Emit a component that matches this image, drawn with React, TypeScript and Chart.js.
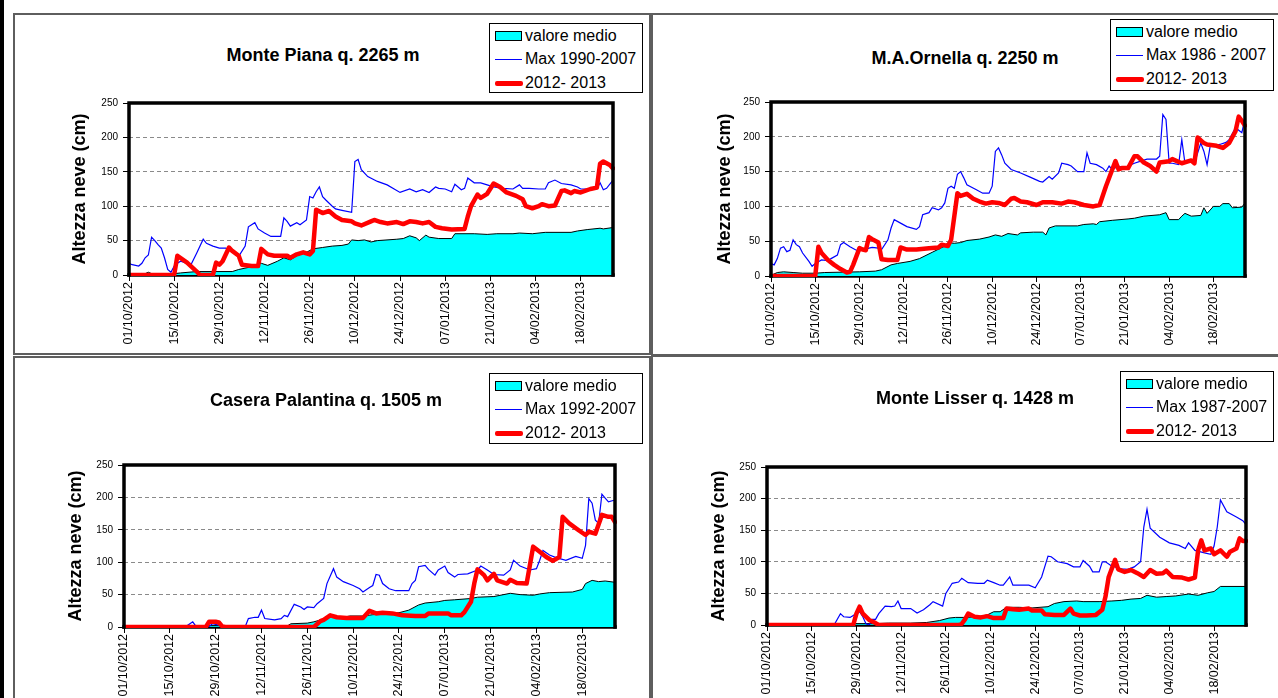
import React, { useEffect, useRef } from 'react';
import { Chart, registerables } from 'chart.js';

Chart.register(...registerables);

const FONT = '"Liberation Sans", Arial, Helvetica, sans-serif';

// ---------- axis data ----------
const tickDays = [0, 14, 28, 42, 56, 70, 84, 98, 112, 126, 140];
const tickLabels = [
  '01/10/2012', '15/10/2012', '29/10/2012', '12/11/2012', '26/11/2012', '10/12/2012',
  '24/12/2012', '07/01/2013', '21/01/2013', '04/02/2013', '18/02/2013',
];
const firstDay = 0;
const lastDay = 150;
const yMin = 0;
const yMax = 250;
const yStep = 50;

const medioLabel = 'valore medio';
const annoLabel = '2012- 2013';
const yTitle = 'Altezza neve (cm)';

type Pt = [number, number];

// ---------- Monte Piana ----------
const pianaTitle = 'Monte Piana q. 2265 m';
const pianaMaxLabel = 'Max 1990-2007';
const pianaMedio: Pt[] = [[0,2],[5,2],[6,4],[7,2],[14,2],[16,3],[21,5],[32,5],[34,8],[38,12],[41,17],[43,14],[46,20],[48,25],[50,22],[52,28],[55,33],[57,38],[60,40],[63,42],[66,43],[68,45],[69,51],[71,50],[73,51],[75,48],[77,50],[83,52],[85,53],[87,57],[89,54],[90,50],[92,58],[93,55],[96,53],[100,53],[101,60],[107,60],[111,59],[114,60],[119,60],[121,61],[125,60],[129,62],[137,62],[139,64],[142,66],[146,68],[147,67],[150,69]];
const pianaMax: Pt[] = [[0,17],[1,15],[3,13],[4,17],[5,25],[6,29],[7,55],[8,50],[9,44],[10,39],[11,25],[12,8],[13,4],[14,13],[15,17],[16,20],[18,17],[19,13],[21,32],[23,52],[24,46],[26,42],[28,39],[30,39],[32,34],[34,27],[36,42],[37,70],[39,76],[40,67],[42,61],[44,56],[47,56],[48,83],[49,78],[50,71],[52,76],[53,73],[55,80],[56,114],[57,112],[58,121],[59,128],[60,114],[61,109],[63,100],[64,96],[66,94],[69,91],[70,165],[71,168],[72,153],[74,143],[77,136],[80,131],[84,120],[87,125],[89,121],[91,124],[93,120],[95,128],[96,126],[98,125],[100,121],[101,132],[103,124],[104,126],[105,141],[107,134],[109,134],[111,131],[113,128],[116,126],[119,125],[121,131],[122,126],[124,126],[127,125],[129,125],[130,134],[132,138],[134,133],[137,131],[139,128],[140,125],[145,125],[146,134],[147,124],[148,126],[150,138]];
const pianaAnno: Pt[] = [[0,0],[14,0],[15,28],[18,18],[21,5],[22,0],[26,0],[27,18],[28,15],[29,20],[31,40],[32,35],[34,28],[35,15],[38,13],[40,13],[41,38],[43,30],[45,28],[49,28],[50,25],[52,30],[54,33],[56,30],[57,35],[58,95],[60,90],[62,93],[64,85],[66,80],[69,78],[70,75],[72,72],[75,78],[76,80],[78,77],[80,75],[83,77],[85,74],[87,78],[89,77],[91,75],[93,77],[95,70],[97,68],[100,66],[104,67],[105,85],[106,100],[108,117],[109,112],[111,118],[113,133],[115,128],[117,120],[120,115],[122,110],[123,100],[125,97],[127,100],[128,103],[130,100],[132,101],[134,122],[135,123],[137,119],[138,122],[140,120],[143,125],[145,127],[146,162],[147,165],[149,160],[150,155]];

// ---------- M.A. Ornella ----------
const ornellaTitle = 'M.A.Ornella q. 2250 m';
const ornellaMaxLabel = 'Max 1986 - 2007';
const ornellaMedio: Pt[] = [[0,1],[2,5],[4,6],[7,5],[10,4],[14,4],[17,5],[28,6],[33,7],[35,9],[38,16],[40,18],[44,21],[47,25],[51,34],[55,43],[56,48],[58,47],[60,48],[62,51],[66,53],[69,56],[71,59],[73,57],[75,61],[78,59],[79,62],[83,63],[86,63],[87,59],[88,69],[90,72],[97,72],[99,74],[102,75],[103,74],[104,78],[108,80],[113,82],[115,83],[118,86],[123,88],[125,91],[126,81],[129,81],[130,86],[131,90],[133,86],[136,87],[137,98],[138,90],[140,100],[142,100],[143,104],[145,104],[146,98],[149,99],[150,105]];
const ornellaMax: Pt[] = [[0,18],[1,16],[2,25],[3,40],[4,42],[5,35],[6,37],[7,52],[8,45],[9,42],[10,33],[12,21],[13,14],[14,18],[16,23],[18,22],[19,25],[21,30],[22,45],[23,48],[25,42],[27,37],[29,37],[31,40],[32,41],[34,40],[35,38],[37,52],[38,69],[39,81],[41,76],[43,71],[46,67],[47,71],[48,88],[50,91],[51,98],[53,95],[54,98],[55,105],[56,126],[57,129],[58,126],[59,146],[60,150],[61,141],[62,131],[65,124],[67,119],[69,119],[70,129],[71,179],[72,184],[73,174],[74,162],[76,153],[79,148],[82,142],[85,136],[86,135],[88,143],[89,139],[91,148],[92,162],[94,160],[95,158],[97,150],[99,150],[100,177],[101,162],[103,160],[105,155],[106,150],[107,158],[108,153],[110,158],[112,155],[113,158],[115,162],[117,165],[119,168],[122,168],[123,172],[124,232],[125,225],[126,162],[127,162],[129,160],[130,196],[131,162],[133,165],[134,162],[136,191],[137,179],[138,160],[139,187],[140,187],[142,189],[144,192],[145,196],[147,213],[149,206],[150,226]];
const ornellaAnno: Pt[] = [[0,0],[14,0],[15,42],[16,33],[18,23],[20,16],[22,10],[24,5],[25,6],[26,16],[28,40],[29,38],[30,37],[31,56],[32,53],[34,48],[35,24],[37,23],[40,23],[41,41],[43,38],[46,38],[50,40],[53,41],[54,45],[56,43],[57,52],[59,119],[60,115],[62,118],[64,111],[66,107],[68,104],[70,106],[72,105],[74,102],[76,111],[77,112],[79,107],[81,106],[84,102],[86,106],[89,106],[92,104],[94,107],[96,106],[99,102],[102,100],[104,102],[106,129],[108,153],[109,165],[110,153],[111,155],[113,155],[115,172],[116,172],[118,163],[120,158],[122,150],[123,163],[126,165],[127,168],[130,162],[133,166],[134,162],[135,199],[137,191],[138,189],[141,187],[143,184],[145,191],[147,208],[148,229],[149,223],[150,216]];

// ---------- Casera Palantina ----------
const palantinaTitle = 'Casera Palantina q. 1505 m';
const palantinaMaxLabel = 'Max 1992-2007';
const palantinaMedio: Pt[] = [[0,2],[50,2],[51,5],[56,6],[58,8],[63,15],[67,15],[69,17],[73,17],[76,19],[80,21],[84,22],[87,26],[90,34],[92,37],[96,39],[98,41],[101,42],[106,44],[108,46],[113,47],[118,52],[121,50],[125,49],[127,51],[130,53],[137,54],[140,58],[141,67],[143,72],[145,70],[147,71],[150,69]];
const palantinaMax: Pt[] = [[0,3],[1,1],[19,1],[21,8],[22,1],[26,1],[27,5],[29,3],[30,0],[37,0],[38,13],[40,15],[41,15],[42,26],[43,13],[46,11],[48,13],[49,18],[50,16],[52,35],[54,31],[55,27],[56,31],[58,30],[59,36],[61,44],[62,67],[64,90],[65,77],[67,70],[70,64],[72,59],[73,54],[75,61],[76,64],[77,81],[78,80],[79,67],[81,59],[83,56],[87,56],[88,67],[89,72],[90,93],[92,95],[93,89],[95,80],[96,88],[98,94],[99,84],[101,77],[102,81],[105,82],[108,88],[109,94],[111,88],[113,81],[116,80],[118,88],[119,103],[121,94],[124,88],[126,90],[127,103],[128,118],[130,111],[132,107],[135,103],[138,109],[140,106],[141,126],[142,198],[143,191],[144,165],[145,160],[146,205],[147,199],[148,193],[150,196]];
const palantinaAnno: Pt[] = [[0,0],[25,0],[26,8],[28,8],[29,7],[30,1],[31,0],[58,0],[60,9],[61,11],[63,18],[65,15],[68,14],[73,14],[75,25],[77,21],[79,22],[82,21],[85,18],[89,17],[92,17],[93,21],[99,21],[100,18],[103,18],[104,23],[106,39],[107,67],[108,89],[110,80],[111,72],[113,82],[114,72],[117,67],[118,73],[120,68],[123,67],[125,124],[127,116],[129,108],[131,102],[133,108],[134,170],[136,160],[139,149],[141,142],[142,147],[144,144],[146,173],[148,170],[149,170],[150,162]];

// ---------- Monte Lisser ----------
const lisserTitle = 'Monte Lisser q. 1428 m';
const lisserMaxLabel = 'Max 1987-2007';
const lisserMedio: Pt[] = [[0,2],[33,2],[38,3],[45,3],[50,4],[54,7],[57,11],[59,12],[62,12],[66,13],[69,16],[71,21],[73,21],[75,28],[79,28],[83,27],[88,29],[90,34],[93,37],[97,38],[99,37],[104,37],[108,38],[111,39],[114,41],[117,42],[119,47],[122,44],[125,45],[128,46],[132,49],[135,47],[138,51],[140,53],[142,61],[150,61]];
const lisserMax: Pt[] = [[0,0],[21,0],[23,18],[24,13],[26,12],[28,18],[29,21],[30,13],[31,2],[32,0],[33,9],[34,9],[35,18],[37,30],[39,29],[40,30],[41,38],[42,26],[45,26],[47,19],[49,24],[51,32],[52,37],[55,30],[56,50],[58,66],[60,68],[61,74],[63,67],[66,66],[68,66],[69,71],[71,67],[73,63],[74,63],[76,76],[77,63],[80,63],[82,63],[84,59],[86,76],[88,109],[89,108],[91,100],[94,97],[96,92],[98,92],[99,102],[101,93],[102,84],[104,84],[105,100],[106,100],[108,93],[111,89],[113,88],[115,92],[117,100],[118,155],[119,183],[120,153],[123,139],[126,130],[129,126],[131,121],[132,130],[134,118],[137,114],[139,112],[140,125],[141,155],[142,198],[144,179],[147,171],[149,165],[150,159]];
const lisserAnno: Pt[] = [[0,0],[27,0],[28,18],[29,29],[30,18],[32,8],[34,3],[35,0],[60,0],[61,2],[62,9],[63,18],[65,13],[67,12],[69,14],[71,11],[74,11],[75,26],[77,25],[79,24],[82,26],[83,23],[86,23],[87,17],[90,16],[93,16],[95,26],[96,18],[98,15],[100,15],[103,16],[105,24],[106,45],[107,76],[109,103],[110,88],[112,84],[114,87],[116,82],[118,76],[120,87],[122,81],[124,82],[125,86],[127,76],[130,75],[132,72],[134,75],[135,118],[136,134],[137,118],[139,121],[140,112],[142,118],[144,108],[145,116],[147,121],[148,137],[149,133],[150,133]];

// ---------- layout ----------
interface Rect { l: number; t: number; r: number; b: number }
interface PanelSpec {
  title: string; maxLabel: string;
  medio: Pt[]; max: Pt[]; anno: Pt[];
  box: Rect; plot: Rect; yTitleX: number;
  titleX: number; titleBase: number; legend: Rect;
}

const panels: PanelSpec[] = [
  { title: pianaTitle, maxLabel: pianaMaxLabel, medio: pianaMedio, max: pianaMax, anno: pianaAnno,
    box: { l: 13, t: 13, r: 651, b: 355 }, plot: { l: 129, t: 103, r: 613, b: 275 }, yTitleX: 80,
    titleX: 323, titleBase: 61, legend: { l: 489, t: 23, r: 643, b: 93 } },
  { title: ornellaTitle, maxLabel: ornellaMaxLabel, medio: ornellaMedio, max: ornellaMax, anno: ornellaAnno,
    box: { l: 651, t: 13, r: 1300, b: 356 }, plot: { l: 771, t: 102, r: 1245, b: 276 }, yTitleX: 725,
    titleX: 965, titleBase: 64, legend: { l: 1110, t: 19, r: 1274, b: 91 } },
  { title: palantinaTitle, maxLabel: palantinaMaxLabel, medio: palantinaMedio, max: palantinaMax, anno: palantinaAnno,
    box: { l: 13, t: 356, r: 651, b: 720 }, plot: { l: 124, t: 465, r: 615, b: 627 }, yTitleX: 76,
    titleX: 326, titleBase: 406, legend: { l: 489, t: 373, r: 643, b: 444 } },
  { title: lisserTitle, maxLabel: lisserMaxLabel, medio: lisserMedio, max: lisserMax, anno: lisserAnno,
    box: { l: 651, t: 355, r: 1300, b: 720 }, plot: { l: 767, t: 467, r: 1246, b: 625 }, yTitleX: 719,
    titleX: 975, titleBase: 404, legend: { l: 1120, t: 371, r: 1274, b: 442 } },
];

const PAD_T = 5;
const PAD_R = 5;
const X_AXIS_H = 82;
const Y_TITLE_SIZE = 18;

const framePlugin = {
  id: 'plotFrame',
  beforeDatasetsDraw(chart: any) {
    const { ctx, chartArea: a } = chart;
    ctx.save();
    ctx.strokeStyle = '#000';
    ctx.lineWidth = 3.5;
    ctx.beginPath();
    ctx.moveTo(a.left - 1.75, a.bottom);
    ctx.lineTo(a.right + 1.75, a.bottom);
    ctx.stroke();
    ctx.restore();
  },
  afterDatasetsDraw(chart: any) {
    const { ctx, chartArea: a } = chart;
    ctx.save();
    ctx.strokeStyle = '#000';
    ctx.lineWidth = 3.5;
    ctx.lineJoin = 'miter';
    ctx.beginPath();
    ctx.moveTo(a.left, a.bottom + 1.75);
    ctx.lineTo(a.left, a.top);
    ctx.lineTo(a.right, a.top);
    ctx.lineTo(a.right, a.bottom + 1.75);
    ctx.stroke();
    ctx.restore();
  },
};

const toXY = (arr: Pt[]) => arr.map(([x, y]) => ({ x, y }));

function Panel({ spec }: { spec: PanelSpec }) {
  const ref = useRef<HTMLCanvasElement | null>(null);
  const cLeft = Math.round(spec.yTitleX - (Y_TITLE_SIZE * 1.2) / 2);
  const yW = spec.plot.l - cLeft;
  const cTop = spec.plot.t - PAD_T;
  const cW = spec.plot.r - cLeft + PAD_R;
  const cH = spec.plot.b - spec.plot.t + PAD_T + X_AXIS_H;

  useEffect(() => {
    if (!ref.current) return;
    const chart = new Chart(ref.current, {
      type: 'line',
      data: {
        datasets: [
          { label: annoLabel, data: toXY(spec.anno), borderColor: '#ff0000', borderWidth: 4.5,
            pointRadius: 0, fill: false, tension: 0, order: 0, borderJoinStyle: 'round', borderCapStyle: 'round',
            clip: { left: 0, top: 0, right: 2, bottom: 1 } as any },
          { label: spec.maxLabel, data: toXY(spec.max), borderColor: '#0000ff', borderWidth: 1.2,
            pointRadius: 0, fill: false, tension: 0, order: 1 },
          { label: medioLabel, data: toXY(spec.medio), borderColor: '#000000', borderWidth: 1,
            backgroundColor: '#00ffff', pointRadius: 0, fill: 'origin', tension: 0, order: 2 },
        ],
      } as any,
      options: {
        animation: false,
        responsive: false,
        devicePixelRatio: 1,
        layout: { padding: { top: PAD_T, right: PAD_R, left: 0, bottom: 0 } },
        plugins: { legend: { display: false }, tooltip: { enabled: false }, title: { display: false } },
        scales: {
          x: {
            type: 'linear', min: firstDay, max: lastDay,
            afterBuildTicks: (s: any) => { s.ticks = tickDays.map((v) => ({ value: v })); },
            afterFit: (s: any) => { s.height = X_AXIS_H; s.paddingLeft = 0; s.paddingRight = 0; },
            ticks: {
              autoSkip: false, maxRotation: 90, minRotation: 90, padding: 1, color: '#000',
              font: { family: FONT, size: 12.5 },
              callback: (_v: any, i: number) => tickLabels[i],
            },
            grid: { drawOnChartArea: false, drawTicks: true, tickLength: 6, tickColor: '#000', tickWidth: 1 },
            border: { display: false },
          },
          y: {
            min: yMin, max: yMax,
            afterFit: (s: any) => { s.width = yW; s.paddingTop = 0; s.paddingBottom = 0; },
            ticks: { stepSize: yStep, padding: 5, color: '#000', font: { family: FONT, size: 10 } },
            grid: {
              color: (c: any) => (c.tick && (c.tick.value === yMin || c.tick.value === yMax)) ? 'rgba(0,0,0,0)' : '#8a8a8a',
              lineWidth: 1, drawTicks: true, tickLength: 6, tickColor: '#000', tickWidth: 1,
            },
            border: { display: false, dash: [4, 3] },
            title: { display: true, text: yTitle, color: '#000', padding: 0,
              font: { family: FONT, size: Y_TITLE_SIZE, weight: 'bold' } },
          },
        },
      } as any,
      plugins: [framePlugin],
    });
    return () => chart.destroy();
  }, []);

  const lg = spec.legend;
  const LEG_FS = 16;
  const rowBase = [18.5, 42, 65.3];
  const txtTop = (b: number) => b - 0.8466 * LEG_FS;
  const items = [
    { label: medioLabel, kind: 'area' },
    { label: spec.maxLabel, kind: 'thin' },
    { label: annoLabel, kind: 'thick' },
  ];

  return (
    <>
      <div style={{ position: 'absolute', left: spec.box.l, top: spec.box.t, width: spec.box.r - spec.box.l,
        height: spec.box.b - spec.box.t, border: '2px solid #5e5e5e', boxSizing: 'border-box' }} />
      <canvas ref={ref} width={cW} height={cH}
        style={{ position: 'absolute', left: cLeft, top: cTop, width: cW, height: cH, display: 'block' }} />
      <div style={{ position: 'absolute', left: spec.titleX - 250, width: 500, top: spec.titleBase - 0.8466 * 18,
        textAlign: 'center', fontFamily: FONT, fontSize: 18, lineHeight: '18px', fontWeight: 'bold', color: '#000',
        whiteSpace: 'nowrap' }}>{spec.title}</div>
      <div style={{ position: 'absolute', left: lg.l, top: lg.t, width: lg.r - lg.l, height: lg.b - lg.t,
        border: '1px solid #000', boxSizing: 'border-box', background: '#fff' }}>
        {items.map((it, i) => {
          const b = rowBase[i];
          const mid = Math.round(b - 6.7);
          let sw: React.ReactNode = null;
          if (it.kind === 'area') {
            sw = <div style={{ position: 'absolute', left: 5, top: mid - 5, width: 27, height: 10,
              background: '#00ffff', border: '1px solid #000', boxSizing: 'border-box' }} />;
          } else if (it.kind === 'thin') {
            sw = <div style={{ position: 'absolute', left: 5, top: mid, width: 27, height: 1, background: '#0000ff' }} />;
          } else {
            sw = <div style={{ position: 'absolute', left: 5, top: mid - 2, width: 28, height: 5, background: '#ff0000', borderRadius: 2 }} />;
          }
          return (
            <React.Fragment key={i}>
              {sw}
              <div style={{ position: 'absolute', left: 35, top: txtTop(b) - 1, fontFamily: FONT, fontSize: LEG_FS,
                lineHeight: LEG_FS + 'px', color: '#000', whiteSpace: 'nowrap' }}>{it.label}</div>
            </React.Fragment>
          );
        })}
      </div>
    </>
  );
}

export default function App() {
  return (
    <div style={{ position: 'fixed', left: 0, top: 0, width: 1278, height: 698, overflow: 'hidden', background: '#fff' }}>
      <div style={{ position: 'absolute', left: 0, top: 0, width: 4, height: 698, background: '#000' }} />
      {panels.map((p, i) => <Panel key={i} spec={p} />)}
    </div>
  );
}
